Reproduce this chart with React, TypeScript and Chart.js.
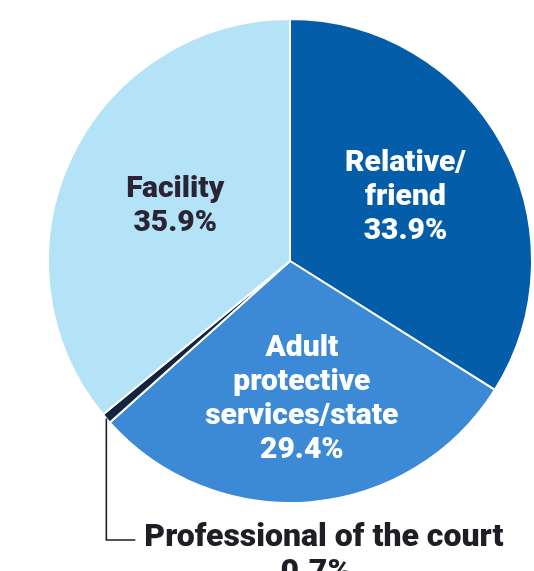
import React, { useEffect, useRef } from "react";
import { Chart, registerables } from "chart.js";

Chart.register(...registerables);

// ---- data ----
const categories = ["Relative/friend", "Adult protective services/state", "Professional of the court", "Facility"];
const shares = [33.9, 29.4, 0.7, 35.9];
const labelLines = [
  ["Relative/", "friend", "33.9%"],
  ["Adult", "protective", "services/state", "29.4%"],
  ["Professional of the court", "0.7%"],
  ["Facility", "35.9%"],
];

// ---- style ----
const sliceColors = ["#035da8", "#3c89d5", "#14233f", "#b4e2f6"];
const textColors = ["#ffffff", "#ffffff", "#1f1d26", "#2a2434"];
const radialFrac = [0.545, 0.575, 0, 0.525];
const FONT = "900 30px Roboto, 'Open Sans', sans-serif";
const FONT_CALLOUT = "900 32px Roboto, 'Open Sans', sans-serif";
const LINE_H = 34;

const labelPlugin = {
  id: "sliceLabels",
  afterDatasetsDraw(chart: any) {
    const ctx = chart.ctx;
    const meta = chart.getDatasetMeta(0);
    ctx.save();
    meta.data.forEach((arc: any, i: number) => {
      const { x, y, startAngle, endAngle, outerRadius } = arc.getProps(
        ["x", "y", "startAngle", "endAngle", "outerRadius"],
        true
      );
      const mid = (startAngle + endAngle) / 2;
      const lines = labelLines[i];
      if (i === 2) {
        // leader line callout for the tiny slice
        const sx = x + Math.cos(mid) * outerRadius;
        const sy = y + Math.sin(mid) * outerRadius;
        const by = 540;
        const ex = sx + 29;
        ctx.strokeStyle = "#1c1c22";
        ctx.lineWidth = 1.6;
        ctx.beginPath();
        ctx.moveTo(sx, sy);
        ctx.lineTo(sx, by);
        ctx.lineTo(ex, by);
        ctx.stroke();
        ctx.fillStyle = textColors[i];
        ctx.font = FONT_CALLOUT;
        ctx.textBaseline = "alphabetic";
        ctx.textAlign = "left";
        ctx.fillText(lines[0], ex + 9, by + 6, 368);
        const w = Math.min(ctx.measureText(lines[0]).width, 368);
        ctx.textAlign = "center";
        ctx.fillText(lines[1], ex + 9 + w / 2 - 8, by + 6 + 35);
        return;
      }
      const r = outerRadius * radialFrac[i];
      const cx = x + Math.cos(mid) * r;
      const cy = y + Math.sin(mid) * r;
      ctx.fillStyle = textColors[i];
      ctx.font = FONT;
      ctx.textAlign = "center";
      ctx.textBaseline = "middle";
      const top = cy - ((lines.length - 1) * LINE_H) / 2;
      lines.forEach((t, k) => ctx.fillText(t, cx, top + k * LINE_H));
    });
    ctx.restore();
  },
};

export default function App() {
  const ref = useRef<HTMLCanvasElement | null>(null);
  useEffect(() => {
    if (!ref.current) return;
    const chart = new Chart(ref.current, {
      type: "pie",
      data: {
        labels: categories,
        datasets: [
          {
            data: shares,
            backgroundColor: sliceColors,
            borderColor: "#ffffff",
            borderWidth: 2,
          },
        ],
      },
      options: {
        animation: false,
        responsive: true,
        maintainAspectRatio: false,
        layout: { padding: { left: 47, right: 1, top: 18, bottom: 67 } },
        plugins: { legend: { display: false }, tooltip: { enabled: false } },
      },
      plugins: [labelPlugin],
    });
    return () => chart.destroy();
  }, []);
  return (
    <div style={{ position: "absolute", left: 0, top: 0, width: 534, height: 571, background: "#fff", overflow: "hidden" }}>
      <canvas ref={ref} />
    </div>
  );
}
